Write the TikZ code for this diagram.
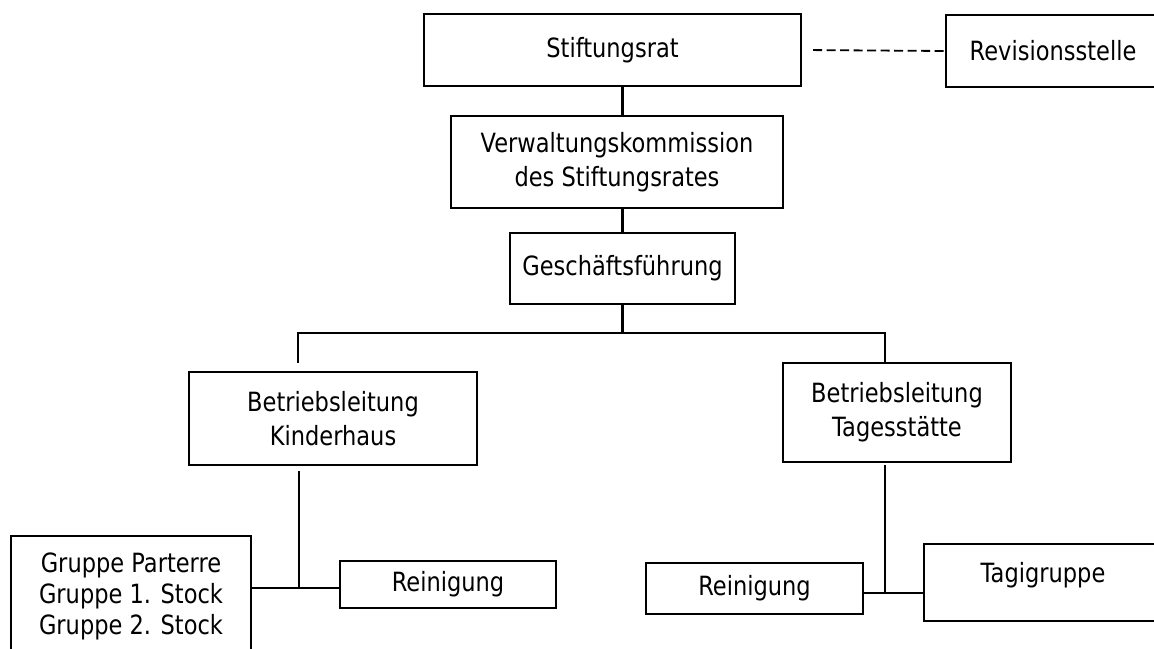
\documentclass[tikz,border=0pt]{standalone}
\usepackage{fontspec}
\setmainfont{DejaVu Sans}[FakeStretch=0.85]
\begin{document}
\begin{tikzpicture}[x=1pt,y=-1pt,
  box/.style={draw,line width=2.2pt,inner sep=0pt,align=center,font=\fontsize{26.5}{34}\selectfont},
  conn/.style={line width=2.2pt}]
\useasboundingbox (0,0) rectangle (1154,648);
\clip (0,0) rectangle (1154,648);
\node[box,minimum width=377,minimum height=72] (stift) at (612.5,50) {Stiftungsrat};
\node[box,minimum width=214,minimum height=72] (rev) at (1053,51) {Revisionsstelle};
\node[box,minimum width=332,minimum height=92] (verw) at (617,162) {Verwaltungskommission\\des Stiftungsrates};
\node[box,minimum width=225,minimum height=71] (gesch) at (622.5,268.5) {Geschäftsführung};
\node[box,minimum width=288,minimum height=93] (kind) at (333,418.5) {Betriebsleitung\\Kinderhaus};
\node[box,minimum width=228,minimum height=99] (tages) at (897,412.5) {Betriebsleitung\\Tagesstätte};
\node[box,minimum width=240,minimum height=120,font=\fontsize{26.5}{31}\selectfont] (gruppe) at (131,596) {Gruppe Parterre\\Gruppe 1. Stock\\Gruppe 2. Stock};
\node[box,minimum width=216,minimum height=47] (reinL) at (448,584.5) {Reinigung};
\node[box,minimum width=217,minimum height=51] (reinR) at (754.5,588.5) {Reinigung};
\node[box,minimum width=238,minimum height=77,text depth=20pt] (tagi) at (1043,582.5) {Tagigruppe};
% connectors
\draw[conn,dash pattern=on 9pt off 4.5pt,line width=1.8pt,shorten <=11pt] (stift.east) -- (rev.west);
\draw[conn] (gesch.north |- stift.south) -- (gesch.north |- verw.north);
\draw[conn] (gesch.north |- verw.south) -- (gesch.north);
\coordinate (bl) at (298,333);
\coordinate (br) at (885,333);
\draw[conn] (gesch.south) -- (gesch.south |- bl);
\draw[conn,shorten <=8pt] (bl |- kind.north) -- (bl) -- (br) -- (br |- tages.north);
\coordinate (jl) at (299,588);
\coordinate (jr) at (885,593);
\draw[conn,shorten <=5pt] (jl |- kind.south) -- (jl);
\draw[conn] (gruppe.east |- jl) -- (reinL.west |- jl);
\draw[conn,shorten <=2pt] (jr |- tages.south) -- (jr);
\draw[conn] (reinR.east |- jr) -- (tagi.west |- jr);
\end{tikzpicture}
\end{document}
